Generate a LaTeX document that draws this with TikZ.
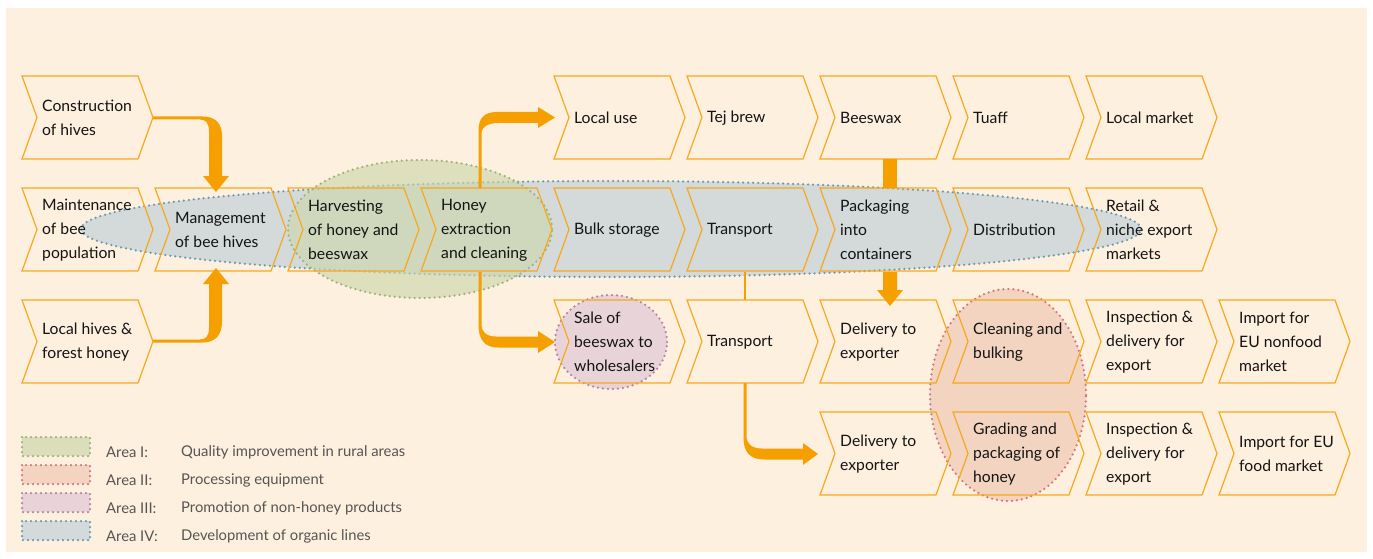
\documentclass[tikz,border=0pt]{standalone}
\usepackage{fontspec}
\setmainfont{Lato}
\definecolor{bgc}{RGB}{254,240,223}
\definecolor{org}{RGB}{245,160,0}
\definecolor{chevc}{RGB}{246,168,30}
\definecolor{bluef}{RGB}{212,217,218}
\definecolor{blued}{RGB}{107,156,181}
\definecolor{greenf}{RGB}{205,214,172}
\definecolor{greend}{RGB}{155,181,122}
\definecolor{pinkf}{RGB}{232,212,216}
\definecolor{pinkd}{RGB}{185,131,166}
\definecolor{salf}{RGB}{242,212,193}
\definecolor{sald}{RGB}{220,116,121}
\definecolor{txt}{RGB}{20,20,20}
\definecolor{legt}{RGB}{85,85,85}
\pgfdeclarelayer{bg}
\pgfsetlayers{bg,main}
\tikzset{
  chevline/.style={draw=chevc, line width=1.2pt, line join=miter},
  chevtext/.style={anchor=west, inner sep=0pt, align=left, text=txt,
    font=\fontsize{15.7}{24}\selectfont},
  dotline/.style={line width=2.5pt, line cap=round, dash pattern=on 0pt off 5pt},
  arrowfill/.style={fill=org, draw=none},
  legtext/.style={anchor=west, inner sep=0pt, text=legt, font=\fontsize{14.8}{17}\selectfont},
}
% #1 name, #2 x-left, #3 y-top, #4 text
\newcommand\chev[4]{%
  \draw[chevline] (#2,#3) -- ++(116,0) -- ++(15,41.5) -- ++(-15,41.5) -- ++(-116,0) -- ++(15,-41.5) -- cycle;
  \node[chevtext] (#1) at (#2+20,#3+42) {#4};}
\begin{document}
\begin{tikzpicture}[x=1pt,y=-1pt]
\useasboundingbox (0,0) rectangle (1373,559);

\begin{pgfonlayer}{bg}
  \fill[white] (0,0) rectangle (1373,559);
  \fill[bgc] (6,8) rectangle (1367,552);
  \fill[bluef] (611,229) ellipse [x radius=530pt, y radius=48pt];
  \draw[dotline, blued] (611,229) ellipse [x radius=530pt, y radius=48pt];
  \fill[greenf, opacity=0.65] (420,229) ellipse [x radius=132pt, y radius=69pt];
  \draw[dotline, greend] (420,229) ellipse [x radius=132pt, y radius=69pt];
  \fill[pinkf] (611,342) ellipse [x radius=56pt, y radius=47pt];
  \draw[dotline, pinkd] (611,342) ellipse [x radius=56pt, y radius=47pt];
  \fill[salf] (1008,395) ellipse [x radius=78pt, y radius=106pt];
  \draw[dotline, sald] (1008,395) ellipse [x radius=78pt, y radius=106pt];
\end{pgfonlayer}

% Row 1
\chev{cons}{22}{76}{Construction\\of hives}
\chev{locuse}{554}{76}{Local use}
\chev{tej}{687}{76}{Tej brew}
\chev{wax}{820}{76}{Beeswax}
\chev{tuaff}{953}{76}{Tuaff}
\chev{locmkt}{1086}{76}{Local market}
% Row 2
\chev{maint}{22}{188}{Maintenance\\of bee\\population}
\chev{mgmt}{155}{188}{Management\\of bee hives}
\chev{harv}{288}{188}{Harvesting\\of honey and\\beeswax}
\chev{extr}{421}{188}{Honey\\extraction\\and cleaning}
\chev{bulk}{554}{188}{Bulk storage}
\chev{trans}{687}{188}{Transport}
\chev{pack}{820}{188}{Packaging\\into\\containers}
\chev{dist}{953}{188}{Distribution}
\chev{retail}{1086}{188}{Retail \&\\niche export\\markets}
% Row 3
\chev{lochives}{22}{300}{Local hives \&\\forest honey}
\chev{sale}{554}{300}{Sale of\\beeswax to\\wholesalers}
\chev{transb}{687}{300}{Transport}
\chev{delA}{820}{300}{Delivery to\\exporter}
\chev{clean}{953}{300}{Cleaning and\\bulking}
\chev{inspA}{1086}{300}{Inspection \&\\delivery for\\export}
\chev{nonfood}{1219}{300}{Import for\\EU nonfood\\market}
% Row 4
\chev{delB}{820}{412}{Delivery to\\exporter}
\chev{grade}{953}{412}{Grading and\\packaging of\\honey}
\chev{inspB}{1086}{412}{Inspection \&\\delivery for\\export}
\chev{food}{1219}{412}{Import for EU\\food market}

% Arrows
\fill[arrowfill] (153,116.5) -- (203,116.5) .. controls (216,116.5) and (222,124) .. (222,136)
  -- (222,176) -- (229,176) -- (216,192) -- (203,176) -- (209,176) -- (209,132)
  .. controls (209,123) and (206,119.5) .. (200,119.5) -- (153,119.5) -- cycle;
\fill[arrowfill] (153,339.5) -- (200,339.5) .. controls (206,339.5) and (209,336) .. (209,328)
  -- (209,284) -- (203,284) -- (216,268) -- (229,284) -- (222,284) -- (222,322)
  .. controls (222,335) and (215,342.5) .. (203,342.5) -- (153,342.5) -- cycle;
\fill[arrowfill] (478.5,188) -- (478.5,131) .. controls (478.5,118) and (484,112) .. (497,112)
  -- (538,112) -- (538,107) -- (555,117.5) -- (538,128) -- (538,123) -- (498,123)
  .. controls (488,123) and (481.5,127) .. (481.5,133) -- (481.5,188) -- cycle;
\fill[arrowfill] (478.5,272) -- (478.5,325) .. controls (478.5,340) and (485,347.5) .. (498,347.5)
  -- (538,347.5) -- (538,353) -- (555,342) -- (538,331) -- (538,336.5) -- (496,336.5)
  .. controls (486,336.5) and (481.5,332) .. (481.5,324) -- (481.5,272) -- cycle;
\draw[org, line width=2.5pt] (745,272) -- (745,300);
\fill[arrowfill] (743.5,383) -- (743.5,438) .. controls (743.5,452) and (750,459.5) .. (764,459.5)
  -- (803,459.5) -- (803,465) -- (818,454) -- (803,443) -- (803,448.5) -- (762,448.5)
  .. controls (752,448.5) and (746.5,444) .. (746.5,436) -- (746.5,383) -- cycle;
\fill[arrowfill] (883,159) rectangle (897,188);
\fill[arrowfill] (883,272) -- (883,290) -- (877,290) -- (890,306) -- (903,290) -- (897,290) -- (897,272) -- cycle;

% Legend
\filldraw[fill=greenf!70!bgc, draw=greend, dotline] (22,437) rectangle (90,456);
\filldraw[fill=salf, draw=sald, dotline] (22,465) rectangle (90,484);
\filldraw[fill=pinkf, draw=pinkd, dotline] (22,493) rectangle (90,512);
\filldraw[fill=bluef, draw=blued, dotline] (22,521) rectangle (90,540);
\node[legtext] (l1a) at (106,452) {Area I:};
\node[legtext] (l1b) at (181,452) {Quality improvement in rural areas};
\node[legtext] (l2a) at (106,480) {Area II:};
\node[legtext] (l2b) at (181,480) {Processing equipment};
\node[legtext] (l3a) at (106,508) {Area III:};
\node[legtext] (l3b) at (181,508) {Promotion of non-honey products};
\node[legtext] (l4a) at (106,536) {Area IV:};
\node[legtext] (l4b) at (181,536) {Development of organic lines};
\end{tikzpicture}
\end{document}
